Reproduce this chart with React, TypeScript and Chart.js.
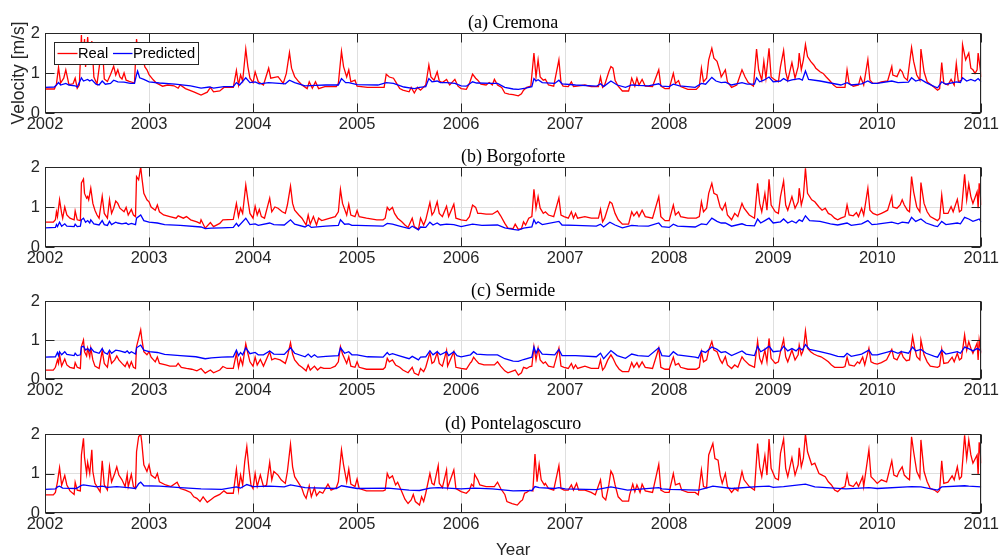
import React, { useEffect, useRef } from 'react';
import { Chart, registerables } from 'chart.js';

Chart.register(...registerables);

type Pt = [number, number];

const yearTicks = [2002, 2003, 2004, 2005, 2006, 2007, 2008, 2009, 2010, 2011];
const velocityTicks = [0, 1, 2];
const panelTitles = ['(a) Cremona', '(b) Borgoforte', '(c) Sermide', '(d) Pontelagoscuro'];
const seriesLabels = ['Real', 'Predicted'];

const cremonaReal: Pt[] = [
[2002.00,0.60],[2002.09,0.60],[2002.11,0.72],[2002.13,1.14],[2002.15,0.75],[2002.18,0.87],[2002.20,1.08],[2002.23,0.71],[2002.27,0.73],[2002.29,0.87],[2002.31,0.62],[2002.33,0.70],
[2002.35,1.95],[2002.36,1.2],[2002.38,1.85],[2002.39,1.15],[2002.41,1.9],[2002.43,1.2],[2002.45,1.8],[2002.47,0.9],[2002.50,0.72],[2002.55,1.72],[2002.57,0.85],[2002.60,0.79],[2002.63,0.96],[2002.66,1.17],[2002.68,0.95],[2002.70,1.08],[2002.72,0.9],[2002.74,0.85],[2002.76,1.0],[2002.78,0.82],[2002.81,0.79],[2002.86,0.75],
[2002.88,1.85],[2002.90,1.3],[2002.93,1.5],[2002.96,1.15],[2002.98,1.08],[2003.00,0.96],[2003.04,0.83],[2003.07,0.75],[2003.13,0.67],[2003.18,0.70],[2003.24,0.68],[2003.28,0.62],[2003.30,0.70],[2003.35,0.61],[2003.43,0.53],[2003.50,0.45],[2003.56,0.52],[2003.59,0.64],[2003.62,0.53],[2003.68,0.55],[2003.72,0.64],[2003.81,0.64],
[2003.84,1.06],[2003.86,0.70],[2003.88,0.95],[2003.90,0.8],[2003.93,1.60],[2003.95,1.16],[2003.97,0.87],[2004.00,0.76],[2004.02,1.03],[2004.05,0.78],[2004.10,0.70],[2004.15,1.12],[2004.17,0.87],[2004.24,0.91],[2004.29,0.74],[2004.32,0.99],[2004.35,1.51],[2004.37,1.12],[2004.40,0.91],[2004.44,0.78],[2004.47,0.70],[2004.52,0.61],[2004.54,0.78],[2004.57,0.62],[2004.60,0.78],[2004.63,0.61],[2004.69,0.66],[2004.80,0.66],[2004.82,0.74],[2004.85,1.54],[2004.87,1.16],[2004.90,0.90],[2004.92,1.08],[2004.94,0.78],[2004.98,0.82],[2005.00,0.67],
[2005.10,0.64],[2005.20,0.64],[2005.26,0.64],[2005.28,0.97],[2005.31,0.90],[2005.35,0.87],[2005.38,0.74],[2005.41,0.61],[2005.44,0.57],[2005.50,0.53],[2005.52,0.64],[2005.55,0.50],[2005.58,0.64],[2005.61,0.57],[2005.66,0.70],[2005.69,1.20],[2005.71,0.90],[2005.74,0.82],[2005.77,1.03],[2005.79,0.80],[2005.82,0.76],[2005.86,0.84],[2005.89,0.70],[2005.94,0.84],[2005.97,0.67],[2006.00,0.61],[2006.05,0.59],
[2006.08,0.74],[2006.11,0.97],[2006.14,0.87],[2006.16,0.82],[2006.19,0.72],[2006.24,0.70],[2006.27,0.76],[2006.30,0.70],[2006.32,0.84],[2006.35,0.70],[2006.39,0.64],[2006.42,0.50],[2006.46,0.47],[2006.50,0.46],[2006.55,0.43],[2006.58,0.48],[2006.60,0.57],[2006.63,0.64],[2006.67,0.67],
[2006.70,1.50],[2006.72,0.90],[2006.74,1.33],[2006.76,0.90],[2006.79,0.82],[2006.81,0.84],[2006.84,0.70],[2006.89,0.67],[2006.94,1.33],[2006.96,0.76],[2006.98,0.67],
[2007.03,0.66],[2007.06,0.78],[2007.08,0.66],[2007.19,0.70],[2007.25,0.66],[2007.32,0.66],[2007.34,0.90],[2007.36,0.64],[2007.38,0.70],[2007.42,1.03],[2007.44,1.16],[2007.46,1.12],[2007.48,0.82],[2007.51,0.67],[2007.55,0.55],[2007.61,0.55],[2007.62,0.64],[2007.64,0.87],[2007.67,0.67],[2007.69,0.87],[2007.71,0.70],[2007.74,0.84],[2007.77,0.67],[2007.84,0.66],[2007.90,1.08],[2007.92,0.67],[2007.96,0.61],[2008.00,0.61],
[2008.04,0.99],[2008.06,0.74],[2008.09,0.81],[2008.11,0.66],[2008.18,0.59],[2008.26,0.59],[2008.29,0.67],[2008.31,1.12],[2008.33,0.78],[2008.36,0.87],[2008.38,1.33],[2008.41,1.62],[2008.43,1.37],[2008.46,1.29],[2008.49,1.03],[2008.50,0.90],[2008.54,1.08],[2008.56,0.78],[2008.60,0.64],[2008.65,0.70],[2008.70,1.08],[2008.73,0.90],[2008.76,0.76],[2008.81,0.67],[2008.84,1.60],[2008.86,1.08],[2008.89,0.82],[2008.91,1.29],[2008.93,0.87],[2008.96,1.62],[2008.98,0.90],[2009.02,0.82],
[2009.05,0.78],[2009.07,1.16],[2009.10,1.56],[2009.12,1.03],[2009.14,0.82],[2009.18,1.26],[2009.21,0.87],[2009.24,1.16],[2009.25,1.50],[2009.27,1.08],[2009.29,1.33],[2009.31,1.71],[2009.33,1.41],[2009.36,1.29],[2009.39,1.20],[2009.41,1.12],[2009.45,1.03],[2009.48,0.99],[2009.51,0.90],[2009.54,0.82],[2009.58,0.70],[2009.61,0.64],[2009.69,0.64],[2009.71,1.08],[2009.73,0.74],[2009.77,0.67],[2009.82,0.70],[2009.84,0.90],[2009.87,0.70],[2009.91,1.34],[2009.93,0.82],[2009.96,0.74],[2010.00,0.74],
[2010.04,0.78],[2010.10,0.80],[2010.14,1.16],[2010.15,0.95],[2010.19,0.91],[2010.22,1.09],[2010.24,1.03],[2010.26,0.89],[2010.29,0.82],[2010.33,1.64],[2010.35,1.29],[2010.38,0.95],[2010.41,0.82],[2010.42,1.60],[2010.45,1.03],[2010.48,0.78],[2010.55,0.64],[2010.58,0.57],[2010.60,0.61],[2010.62,1.26],[2010.64,0.74],[2010.68,0.70],[2010.71,0.84],[2010.74,0.70],[2010.76,1.24],[2010.78,0.78],[2010.81,0.82],[2010.82,1.71],[2010.85,1.33],[2010.88,1.50],[2010.90,1.12],[2010.92,1.08],[2010.94,0.99],[2010.96,1.08],[2010.97,1.50],[2011.00,0.90]
];

const cremonaPred: Pt[] = [
[2002.00,0.64],[2002.09,0.65],[2002.11,0.70],[2002.13,0.76],[2002.15,0.70],[2002.20,0.74],[2002.23,0.70],[2002.29,0.68],[2002.31,0.65],[2002.34,0.82],[2002.35,0.88],[2002.37,0.80],[2002.41,0.84],[2002.43,0.80],[2002.45,0.83],[2002.49,0.72],[2002.52,0.70],[2002.55,0.80],[2002.58,0.72],[2002.63,0.74],[2002.66,0.82],[2002.70,0.78],[2002.76,0.77],[2002.82,0.74],[2002.86,0.74],[2002.88,0.96],[2002.89,1.05],[2002.91,0.88],[2002.95,0.84],[2003.00,0.78],[2003.10,0.75],[2003.25,0.72],[2003.40,0.68],[2003.50,0.62],[2003.58,0.65],[2003.62,0.62],[2003.72,0.66],[2003.81,0.66],[2003.84,0.76],[2003.87,0.70],[2003.93,0.88],[2003.97,0.76],[2004.02,0.78],[2004.06,0.73],[2004.15,0.76],[2004.25,0.74],[2004.31,0.73],[2004.35,0.82],[2004.40,0.76],[2004.50,0.68],[2004.60,0.69],[2004.70,0.70],[2004.82,0.70],[2004.85,0.86],[2004.89,0.76],[2004.92,0.76],[2005.00,0.71],[2005.20,0.70],[2005.28,0.76],[2005.35,0.74],[2005.45,0.65],[2005.55,0.61],[2005.60,0.64],[2005.66,0.66],[2005.69,0.86],[2005.72,0.78],[2005.77,0.80],[2005.80,0.76],[2005.86,0.76],[2005.94,0.74],[2006.00,0.68],[2006.05,0.67],[2006.11,0.78],[2006.15,0.75],[2006.30,0.74],[2006.35,0.74],[2006.42,0.64],[2006.50,0.60],[2006.55,0.59],[2006.62,0.62],[2006.68,0.66],[2006.70,0.86],[2006.72,0.80],[2006.74,0.83],[2006.78,0.76],[2006.90,0.74],[2006.94,0.82],[2006.97,0.73],[2007.10,0.70],[2007.30,0.67],[2007.34,0.73],[2007.37,0.66],[2007.44,0.80],[2007.50,0.70],[2007.58,0.64],[2007.64,0.70],[2007.70,0.69],[2007.80,0.68],[2007.90,0.73],[2007.93,0.67],[2008.00,0.66],[2008.04,0.72],[2008.10,0.68],[2008.25,0.64],[2008.31,0.74],[2008.35,0.72],[2008.41,0.89],[2008.45,0.80],[2008.50,0.76],[2008.54,0.77],[2008.60,0.70],[2008.70,0.76],[2008.75,0.72],[2008.82,0.72],[2008.84,0.88],[2008.87,0.78],[2008.91,0.82],[2008.96,0.90],[2009.00,0.78],[2009.07,0.80],[2009.10,0.86],[2009.14,0.80],[2009.18,0.83],[2009.25,0.86],[2009.28,0.82],[2009.31,1.05],[2009.34,0.84],[2009.45,0.80],[2009.55,0.75],[2009.65,0.70],[2009.71,0.76],[2009.75,0.70],[2009.85,0.73],[2009.91,0.80],[2009.95,0.74],[2010.00,0.74],[2010.14,0.80],[2010.20,0.76],[2010.30,0.77],[2010.33,0.88],[2010.37,0.80],[2010.42,0.84],[2010.47,0.76],[2010.55,0.66],[2010.58,0.63],[2010.62,0.78],[2010.66,0.72],[2010.76,0.78],[2010.80,0.76],[2010.82,0.88],[2010.86,0.80],[2010.90,0.84],[2010.94,0.80],[2010.97,0.86],[2011.00,0.78]
];

const borgoforteReal: Pt[] = [
[2002.00,0.62],[2002.08,0.62],[2002.10,0.68],[2002.11,0.88],[2002.12,0.76],[2002.14,1.18],[2002.16,0.84],[2002.17,0.72],[2002.19,1.0],[2002.21,0.80],[2002.24,0.72],[2002.28,0.68],[2002.29,0.90],[2002.31,0.68],[2002.34,0.66],
[2002.35,1.60],[2002.37,1.70],[2002.38,1.34],[2002.40,1.22],[2002.41,1.26],[2002.42,1.18],[2002.44,1.47],[2002.46,1.09],[2002.48,0.92],[2002.50,0.80],[2002.52,0.72],[2002.55,1.27],[2002.57,0.84],[2002.60,0.72],[2002.62,1.18],[2002.64,0.84],[2002.66,0.97],[2002.68,1.15],[2002.70,1.09],[2002.72,0.97],[2002.76,0.88],[2002.78,0.99],[2002.80,0.80],[2002.83,0.94],[2002.85,0.80],[2002.87,0.76],
[2002.88,1.76],[2002.90,1.68],[2002.92,2.00],[2002.93,1.76],[2002.95,1.34],[2002.98,1.18],[2003.00,1.13],[2003.02,1.00],[2003.06,0.92],[2003.08,1.05],[2003.10,0.88],[2003.14,0.80],[2003.20,0.76],[2003.26,0.72],[2003.28,0.78],[2003.33,0.72],[2003.36,0.76],[2003.40,0.68],[2003.46,0.63],[2003.49,0.59],[2003.50,0.68],[2003.54,0.47],[2003.59,0.61],[2003.62,0.51],[2003.68,0.59],[2003.71,0.68],[2003.81,0.69],
[2003.84,1.09],[2003.86,0.76],[2003.88,0.97],[2003.90,0.84],[2003.93,1.55],[2003.95,1.18],[2003.97,0.84],[2004.00,0.72],[2004.02,1.02],[2004.04,0.80],[2004.06,0.94],[2004.08,0.76],[2004.11,0.72],[2004.16,1.22],[2004.18,0.88],[2004.21,1.00],[2004.24,0.97],[2004.28,0.88],[2004.31,0.84],[2004.33,1.05],[2004.36,1.52],[2004.38,1.09],[2004.40,0.92],[2004.44,0.80],[2004.47,0.72],[2004.51,0.55],[2004.53,0.80],[2004.55,0.57],[2004.58,0.76],[2004.61,0.55],[2004.63,0.72],[2004.66,0.66],[2004.70,0.69],[2004.74,0.72],[2004.79,0.76],[2004.82,0.88],[2004.84,1.44],[2004.86,1.09],[2004.90,0.80],[2004.92,1.07],[2004.94,0.80],[2004.98,0.76],[2005.00,0.91],[2005.02,0.76],
[2005.09,0.72],[2005.19,0.68],[2005.25,0.68],[2005.27,0.72],[2005.29,0.99],[2005.31,0.92],[2005.34,0.99],[2005.36,0.84],[2005.39,0.72],[2005.43,0.63],[2005.46,0.55],[2005.49,0.49],[2005.53,0.72],[2005.55,0.51],[2005.59,0.44],[2005.61,0.72],[2005.64,0.55],[2005.66,0.68],[2005.70,1.11],[2005.72,0.80],[2005.74,0.88],[2005.77,1.13],[2005.79,0.84],[2005.82,0.76],[2005.86,1.02],[2005.88,0.76],[2005.93,1.07],[2005.95,0.72],[2006.00,0.68],[2006.05,0.66],
[2006.08,0.76],[2006.11,1.05],[2006.14,0.99],[2006.16,0.84],[2006.19,0.84],[2006.24,0.82],[2006.30,0.82],[2006.35,0.90],[2006.38,0.78],[2006.42,0.59],[2006.45,0.47],[2006.50,0.46],[2006.52,0.57],[2006.55,0.44],[2006.58,0.46],[2006.60,0.63],[2006.62,0.55],[2006.65,0.72],[2006.68,0.76],
[2006.70,1.44],[2006.72,0.97],[2006.74,1.26],[2006.76,0.97],[2006.79,0.84],[2006.81,0.88],[2006.84,0.80],[2006.89,0.76],[2006.94,1.23],[2006.96,0.80],[2006.99,0.76],
[2007.03,0.72],[2007.06,0.88],[2007.08,0.72],[2007.10,0.84],[2007.12,0.72],[2007.19,0.76],[2007.25,0.72],[2007.32,0.72],[2007.34,0.94],[2007.36,0.63],[2007.38,0.72],[2007.41,0.97],[2007.43,1.13],[2007.45,1.09],[2007.48,0.84],[2007.51,0.68],[2007.55,0.57],[2007.61,0.57],[2007.64,0.88],[2007.66,0.78],[2007.69,0.88],[2007.71,0.76],[2007.74,0.92],[2007.77,0.76],[2007.84,0.72],[2007.90,1.26],[2007.92,0.76],[2007.96,0.66],[2008.00,0.66],
[2008.04,1.05],[2008.06,0.80],[2008.09,0.88],[2008.11,0.76],[2008.18,0.72],[2008.26,0.72],[2008.29,0.76],[2008.31,1.13],[2008.33,0.88],[2008.36,0.97],[2008.38,1.34],[2008.41,1.59],[2008.43,1.34],[2008.46,1.30],[2008.49,1.00],[2008.51,0.92],[2008.54,1.09],[2008.56,0.80],[2008.60,0.68],[2008.63,0.84],[2008.66,0.76],[2008.70,1.09],[2008.72,0.97],[2008.77,0.80],[2008.82,0.72],[2008.85,1.59],[2008.87,1.09],[2008.89,0.88],[2008.92,1.34],[2008.94,0.92],[2008.96,1.69],[2008.98,1.05],[2009.02,0.88],
[2009.05,0.84],[2009.07,1.26],[2009.10,1.65],[2009.12,1.05],[2009.14,0.92],[2009.18,1.26],[2009.21,0.97],[2009.24,1.13],[2009.25,1.47],[2009.27,1.05],[2009.29,1.26],[2009.31,1.97],[2009.33,1.34],[2009.37,1.18],[2009.40,1.13],[2009.44,1.00],[2009.47,0.92],[2009.50,0.97],[2009.53,0.84],[2009.56,0.80],[2009.59,0.72],[2009.62,0.68],[2009.65,0.72],[2009.69,0.76],[2009.71,1.05],[2009.73,0.80],[2009.77,0.78],[2009.80,0.86],[2009.82,0.76],[2009.85,0.97],[2009.87,0.80],[2009.91,1.47],[2009.93,0.92],[2009.96,0.84],[2010.00,0.80],
[2010.04,0.84],[2010.07,0.88],[2010.10,0.92],[2010.14,1.26],[2010.15,1.00],[2010.19,0.97],[2010.22,1.05],[2010.24,1.18],[2010.26,1.05],[2010.29,0.92],[2010.31,0.88],[2010.33,1.76],[2010.35,1.38],[2010.38,1.00],[2010.41,0.88],[2010.42,1.61],[2010.45,1.09],[2010.48,0.88],[2010.51,0.76],[2010.58,0.66],[2010.60,0.72],[2010.62,1.30],[2010.64,0.84],[2010.68,0.84],[2010.71,1.01],[2010.73,0.88],[2010.77,1.19],[2010.79,0.88],[2010.81,0.92],[2010.84,1.82],[2010.86,1.18],[2010.88,1.57],[2010.90,1.26],[2010.92,1.09],[2010.96,1.38],[2010.97,0.97],[2010.98,1.59],[2011.00,1.05]
];

const borgofortePred: Pt[] = [
[2002.00,0.48],[2002.10,0.49],[2002.11,0.56],[2002.12,0.51],[2002.14,0.62],[2002.16,0.52],[2002.19,0.58],[2002.21,0.52],[2002.28,0.51],[2002.29,0.57],[2002.31,0.51],[2002.34,0.52],[2002.35,0.68],[2002.37,0.72],[2002.39,0.62],[2002.41,0.66],[2002.43,0.60],[2002.44,0.68],[2002.47,0.58],[2002.52,0.55],[2002.55,0.66],[2002.57,0.56],[2002.60,0.54],[2002.62,0.64],[2002.64,0.56],[2002.68,0.62],[2002.70,0.60],[2002.74,0.58],[2002.78,0.60],[2002.80,0.56],[2002.83,0.59],[2002.87,0.56],[2002.88,0.72],[2002.92,0.80],[2002.95,0.66],[2003.00,0.62],[2003.08,0.60],[2003.15,0.56],[2003.30,0.54],[2003.50,0.50],[2003.54,0.46],[2003.60,0.47],[2003.70,0.48],[2003.81,0.49],[2003.84,0.59],[2003.86,0.52],[2003.93,0.72],[2003.97,0.56],[2004.02,0.58],[2004.05,0.54],[2004.16,0.60],[2004.20,0.56],[2004.30,0.55],[2004.36,0.68],[2004.40,0.57],[2004.50,0.50],[2004.53,0.55],[2004.56,0.49],[2004.70,0.52],[2004.82,0.54],[2004.84,0.68],[2004.88,0.57],[2004.92,0.58],[2004.95,0.54],[2005.00,0.54],[2005.25,0.52],[2005.29,0.59],[2005.34,0.57],[2005.40,0.53],[2005.50,0.46],[2005.53,0.52],[2005.59,0.43],[2005.61,0.50],[2005.66,0.49],[2005.70,0.62],[2005.73,0.55],[2005.77,0.60],[2005.80,0.55],[2005.86,0.57],[2005.93,0.56],[2006.00,0.51],[2006.11,0.57],[2006.20,0.54],[2006.35,0.55],[2006.42,0.48],[2006.50,0.44],[2006.55,0.42],[2006.60,0.47],[2006.68,0.50],[2006.70,0.68],[2006.72,0.58],[2006.74,0.63],[2006.78,0.56],[2006.94,0.64],[2006.97,0.55],[2007.10,0.54],[2007.30,0.52],[2007.34,0.57],[2007.37,0.50],[2007.43,0.62],[2007.48,0.55],[2007.55,0.48],[2007.64,0.54],[2007.70,0.53],[2007.80,0.52],[2007.90,0.60],[2007.93,0.51],[2008.00,0.49],[2008.04,0.57],[2008.08,0.52],[2008.25,0.50],[2008.31,0.58],[2008.36,0.56],[2008.41,0.72],[2008.46,0.64],[2008.50,0.60],[2008.54,0.60],[2008.60,0.52],[2008.70,0.58],[2008.74,0.54],[2008.82,0.53],[2008.85,0.70],[2008.88,0.60],[2008.92,0.66],[2008.96,0.72],[2009.00,0.60],[2009.07,0.63],[2009.10,0.70],[2009.14,0.60],[2009.18,0.65],[2009.22,0.60],[2009.25,0.68],[2009.28,0.64],[2009.31,0.78],[2009.35,0.66],[2009.45,0.64],[2009.55,0.58],[2009.62,0.55],[2009.71,0.60],[2009.75,0.54],[2009.85,0.58],[2009.91,0.66],[2009.95,0.56],[2010.00,0.57],[2010.14,0.62],[2010.20,0.58],[2010.24,0.62],[2010.30,0.60],[2010.33,0.74],[2010.37,0.64],[2010.42,0.70],[2010.47,0.60],[2010.55,0.53],[2010.58,0.51],[2010.62,0.64],[2010.66,0.56],[2010.77,0.60],[2010.80,0.58],[2010.84,0.74],[2010.88,0.70],[2010.92,0.64],[2010.96,0.68],[2010.98,0.70],[2011.00,0.62]
];

const sermideReal: Pt[] = [
[2002.00,0.23],[2002.08,0.23],[2002.10,0.30],[2002.12,0.49],[2002.13,0.40],[2002.14,0.62],[2002.16,0.33],[2002.19,0.51],[2002.21,0.36],[2002.24,0.30],[2002.28,0.27],[2002.29,0.42],[2002.31,0.30],[2002.34,0.27],
[2002.35,0.83],[2002.37,1.00],[2002.38,0.70],[2002.40,0.59],[2002.41,0.79],[2002.43,0.57],[2002.44,0.79],[2002.46,0.49],[2002.48,0.33],[2002.52,0.27],[2002.55,0.73],[2002.57,0.40],[2002.60,0.30],[2002.62,0.66],[2002.64,0.40],[2002.67,0.49],[2002.69,0.59],[2002.71,0.49],[2002.74,0.40],[2002.77,0.32],[2002.79,0.44],[2002.81,0.30],[2002.83,0.44],[2002.85,0.30],[2002.87,0.27],
[2002.88,0.83],[2002.90,1.04],[2002.92,1.26],[2002.93,1.04],[2002.95,0.70],[2002.98,0.62],[2003.00,0.70],[2003.02,0.56],[2003.06,0.44],[2003.08,0.56],[2003.10,0.40],[2003.16,0.36],[2003.20,0.33],[2003.26,0.33],[2003.28,0.40],[2003.31,0.30],[2003.36,0.27],[2003.41,0.25],[2003.46,0.21],[2003.50,0.27],[2003.54,0.15],[2003.59,0.23],[2003.62,0.16],[2003.68,0.23],[2003.71,0.32],[2003.75,0.27],[2003.81,0.27],
[2003.84,0.66],[2003.86,0.30],[2003.88,0.53],[2003.90,0.36],[2003.93,0.90],[2003.95,0.66],[2003.97,0.44],[2004.00,0.33],[2004.02,0.56],[2004.04,0.36],[2004.07,0.50],[2004.10,0.33],[2004.16,0.70],[2004.18,0.49],[2004.21,0.53],[2004.26,0.49],[2004.31,0.40],[2004.33,0.57],[2004.36,0.93],[2004.38,0.64],[2004.40,0.49],[2004.44,0.36],[2004.47,0.30],[2004.51,0.21],[2004.53,0.36],[2004.55,0.23],[2004.59,0.33],[2004.62,0.23],[2004.65,0.30],[2004.68,0.27],[2004.74,0.27],[2004.79,0.33],[2004.82,0.44],[2004.84,0.83],[2004.86,0.64],[2004.90,0.40],[2004.92,0.57],[2004.94,0.33],[2004.98,0.30],[2005.00,0.44],[2005.02,0.30],
[2005.09,0.25],[2005.25,0.25],[2005.27,0.30],[2005.29,0.53],[2005.31,0.44],[2005.34,0.49],[2005.37,0.36],[2005.41,0.30],[2005.44,0.23],[2005.49,0.16],[2005.53,0.30],[2005.55,0.15],[2005.59,0.10],[2005.61,0.27],[2005.64,0.19],[2005.66,0.30],[2005.70,0.68],[2005.72,0.40],[2005.74,0.44],[2005.77,0.68],[2005.79,0.40],[2005.82,0.33],[2005.86,0.73],[2005.87,0.33],[2005.93,0.70],[2005.95,0.30],[2006.00,0.27],[2006.05,0.25],
[2006.09,0.42],[2006.10,0.44],[2006.12,0.56],[2006.14,0.49],[2006.17,0.40],[2006.22,0.36],[2006.32,0.36],[2006.35,0.44],[2006.38,0.33],[2006.42,0.21],[2006.45,0.16],[2006.52,0.23],[2006.55,0.10],[2006.58,0.16],[2006.60,0.30],[2006.63,0.27],[2006.66,0.32],[2006.68,0.33],
[2006.70,0.83],[2006.72,0.49],[2006.74,0.79],[2006.76,0.49],[2006.79,0.40],[2006.81,0.44],[2006.84,0.33],[2006.89,0.30],[2006.94,0.79],[2006.96,0.33],[2006.99,0.30],
[2007.03,0.27],[2007.06,0.40],[2007.08,0.27],[2007.10,0.36],[2007.12,0.27],[2007.19,0.33],[2007.25,0.27],[2007.32,0.27],[2007.34,0.49],[2007.36,0.23],[2007.38,0.30],[2007.41,0.49],[2007.44,0.62],[2007.46,0.53],[2007.49,0.36],[2007.52,0.25],[2007.55,0.19],[2007.61,0.19],[2007.64,0.42],[2007.66,0.30],[2007.69,0.42],[2007.71,0.30],[2007.74,0.44],[2007.77,0.30],[2007.84,0.27],[2007.90,0.79],[2007.92,0.30],[2007.96,0.25],[2008.00,0.25],
[2008.04,0.56],[2008.06,0.36],[2008.09,0.40],[2008.11,0.30],[2008.18,0.25],[2008.26,0.25],[2008.29,0.30],[2008.31,0.70],[2008.33,0.44],[2008.36,0.49],[2008.38,0.74],[2008.41,0.96],[2008.43,0.74],[2008.46,0.70],[2008.49,0.49],[2008.51,0.40],[2008.54,0.57],[2008.56,0.36],[2008.60,0.27],[2008.63,0.36],[2008.66,0.30],[2008.70,0.57],[2008.72,0.49],[2008.77,0.36],[2008.82,0.30],[2008.85,0.97],[2008.87,0.53],[2008.89,0.40],[2008.92,0.74],[2008.94,0.44],[2008.96,1.04],[2008.98,0.53],[2009.02,0.40],
[2009.05,0.44],[2009.07,0.70],[2009.10,1.02],[2009.12,0.57],[2009.14,0.44],[2009.18,0.74],[2009.21,0.49],[2009.24,0.62],[2009.25,0.87],[2009.27,0.62],[2009.29,0.74],[2009.31,1.23],[2009.33,0.79],[2009.36,0.70],[2009.39,0.64],[2009.43,0.59],[2009.46,0.57],[2009.50,0.50],[2009.53,0.44],[2009.56,0.36],[2009.59,0.30],[2009.67,0.30],[2009.69,0.32],[2009.71,0.56],[2009.73,0.36],[2009.78,0.33],[2009.81,0.44],[2009.83,0.40],[2009.86,0.56],[2009.88,0.36],[2009.92,0.79],[2009.94,0.44],[2009.97,0.40],[2010.00,0.38],
[2010.04,0.42],[2010.09,0.49],[2010.14,0.76],[2010.16,0.53],[2010.19,0.49],[2010.23,0.70],[2010.25,0.56],[2010.28,0.47],[2010.31,0.49],[2010.34,1.09],[2010.36,0.79],[2010.38,0.57],[2010.41,0.49],[2010.42,1.00],[2010.45,0.62],[2010.48,0.44],[2010.51,0.33],[2010.58,0.30],[2010.60,0.33],[2010.62,0.76],[2010.64,0.40],[2010.68,0.42],[2010.72,0.56],[2010.74,0.44],[2010.77,0.66],[2010.79,0.49],[2010.81,0.53],[2010.84,1.13],[2010.86,0.74],[2010.88,0.96],[2010.90,0.79],[2010.92,0.66],[2010.96,0.92],[2010.97,0.49],[2010.98,1.00],[2011.00,0.66]
];

const sermidePred: Pt[] = [
[2002.00,0.56],[2002.10,0.57],[2002.12,0.68],[2002.13,0.60],[2002.14,0.70],[2002.16,0.62],[2002.19,0.70],[2002.21,0.63],[2002.28,0.60],[2002.29,0.66],[2002.31,0.60],[2002.34,0.62],[2002.35,0.82],[2002.37,0.84],[2002.39,0.74],[2002.41,0.78],[2002.43,0.72],[2002.44,0.80],[2002.47,0.70],[2002.52,0.66],[2002.55,0.78],[2002.57,0.68],[2002.60,0.64],[2002.62,0.74],[2002.64,0.66],[2002.68,0.74],[2002.72,0.72],[2002.77,0.68],[2002.79,0.72],[2002.81,0.66],[2002.83,0.70],[2002.87,0.64],[2002.88,0.80],[2002.92,0.87],[2002.95,0.74],[2003.00,0.70],[2003.08,0.68],[2003.15,0.63],[2003.30,0.60],[2003.45,0.57],[2003.54,0.52],[2003.60,0.54],[2003.70,0.56],[2003.81,0.57],[2003.84,0.74],[2003.86,0.60],[2003.88,0.68],[2003.90,0.62],[2003.93,0.80],[2003.97,0.65],[2004.02,0.68],[2004.05,0.62],[2004.10,0.62],[2004.16,0.72],[2004.20,0.64],[2004.30,0.63],[2004.36,0.80],[2004.40,0.66],[2004.50,0.57],[2004.53,0.64],[2004.56,0.56],[2004.59,0.62],[2004.62,0.56],[2004.70,0.58],[2004.82,0.60],[2004.84,0.80],[2004.88,0.66],[2004.92,0.70],[2004.95,0.62],[2005.00,0.62],[2005.10,0.57],[2005.25,0.56],[2005.29,0.68],[2005.31,0.62],[2005.34,0.65],[2005.40,0.60],[2005.50,0.52],[2005.53,0.58],[2005.59,0.49],[2005.61,0.56],[2005.66,0.57],[2005.70,0.72],[2005.73,0.62],[2005.77,0.70],[2005.80,0.62],[2005.86,0.70],[2005.88,0.60],[2005.93,0.70],[2005.96,0.60],[2006.00,0.57],[2006.09,0.62],[2006.12,0.70],[2006.15,0.64],[2006.25,0.62],[2006.35,0.62],[2006.42,0.52],[2006.50,0.46],[2006.55,0.45],[2006.60,0.50],[2006.68,0.56],[2006.70,0.82],[2006.72,0.66],[2006.74,0.78],[2006.78,0.64],[2006.90,0.62],[2006.94,0.76],[2006.97,0.60],[2007.10,0.60],[2007.30,0.57],[2007.34,0.66],[2007.37,0.52],[2007.44,0.73],[2007.50,0.60],[2007.58,0.53],[2007.64,0.64],[2007.70,0.60],[2007.80,0.58],[2007.90,0.80],[2007.93,0.60],[2008.00,0.58],[2008.04,0.70],[2008.08,0.62],[2008.25,0.56],[2008.28,0.54],[2008.31,0.72],[2008.35,0.68],[2008.41,0.82],[2008.46,0.76],[2008.50,0.68],[2008.54,0.70],[2008.60,0.60],[2008.70,0.72],[2008.74,0.64],[2008.82,0.60],[2008.85,0.84],[2008.88,0.70],[2008.92,0.76],[2008.96,0.84],[2009.00,0.70],[2009.07,0.72],[2009.10,0.84],[2009.14,0.72],[2009.18,0.78],[2009.22,0.72],[2009.25,0.80],[2009.28,0.74],[2009.31,0.88],[2009.35,0.76],[2009.45,0.70],[2009.55,0.64],[2009.62,0.58],[2009.68,0.57],[2009.71,0.66],[2009.75,0.58],[2009.85,0.64],[2009.92,0.74],[2009.95,0.62],[2010.00,0.62],[2010.14,0.72],[2010.20,0.66],[2010.23,0.70],[2010.30,0.66],[2010.34,0.82],[2010.37,0.72],[2010.42,0.76],[2010.47,0.66],[2010.55,0.58],[2010.58,0.56],[2010.62,0.74],[2010.66,0.64],[2010.77,0.70],[2010.80,0.66],[2010.84,0.82],[2010.88,0.78],[2010.92,0.72],[2010.96,0.78],[2010.98,0.76],[2011.00,0.70]
];

const ponteReal: Pt[] = [
[2002.00,0.46],[2002.08,0.46],[2002.10,0.52],[2002.12,0.79],[2002.14,1.15],[2002.16,0.71],[2002.19,0.95],[2002.21,0.71],[2002.24,0.56],[2002.28,0.47],[2002.29,0.78],[2002.31,0.58],[2002.34,0.56],
[2002.35,1.47],[2002.37,1.89],[2002.38,1.40],[2002.40,1.00],[2002.41,1.28],[2002.43,1.00],[2002.45,1.60],[2002.46,1.05],[2002.48,0.75],[2002.52,0.58],[2002.53,0.54],[2002.55,1.32],[2002.57,0.71],[2002.60,0.58],[2002.62,1.17],[2002.64,0.79],[2002.67,1.00],[2002.69,1.17],[2002.71,0.96],[2002.74,0.84],[2002.77,0.67],[2002.79,0.98],[2002.80,0.67],[2002.83,0.98],[2002.85,0.67],[2002.87,0.62],
[2002.88,1.55],[2002.90,1.93],[2002.92,2.00],[2002.93,1.80],[2002.95,1.22],[2002.98,1.05],[2003.00,1.22],[2003.02,0.96],[2003.06,0.88],[2003.08,1.00],[2003.10,0.79],[2003.16,0.71],[2003.21,0.67],[2003.27,0.78],[2003.30,0.62],[2003.35,0.58],[2003.40,0.52],[2003.43,0.41],[2003.46,0.37],[2003.49,0.29],[2003.52,0.41],[2003.56,0.27],[2003.60,0.35],[2003.63,0.41],[2003.68,0.47],[2003.72,0.56],[2003.75,0.50],[2003.81,0.50],
[2003.84,1.11],[2003.86,0.58],[2003.88,0.96],[2003.90,0.71],[2003.92,1.30],[2003.94,1.68],[2003.96,1.13],[2003.98,0.71],[2004.00,0.62],[2004.02,1.00],[2004.04,0.67],[2004.07,0.96],[2004.10,0.67],[2004.13,0.71],[2004.16,1.28],[2004.18,0.84],[2004.20,1.05],[2004.24,0.96],[2004.27,0.84],[2004.31,0.75],[2004.33,1.05],[2004.36,1.74],[2004.38,1.17],[2004.40,0.92],[2004.44,0.75],[2004.47,0.62],[2004.49,0.46],[2004.51,0.37],[2004.54,0.69],[2004.56,0.41],[2004.59,0.64],[2004.61,0.44],[2004.64,0.54],[2004.67,0.50],[2004.72,0.73],[2004.75,0.58],[2004.80,0.64],[2004.82,0.79],[2004.85,1.60],[2004.87,1.22],[2004.90,0.79],[2004.92,1.11],[2004.94,0.73],[2004.98,0.67],[2005.00,0.86],[2005.02,0.62],
[2005.09,0.56],[2005.25,0.56],[2005.27,0.58],[2005.29,1.00],[2005.31,0.88],[2005.34,0.94],[2005.37,0.71],[2005.39,0.78],[2005.43,0.54],[2005.46,0.35],[2005.49,0.24],[2005.52,0.33],[2005.54,0.47],[2005.56,0.29],[2005.60,0.20],[2005.62,0.41],[2005.64,0.29],[2005.66,0.50],[2005.70,1.00],[2005.72,0.75],[2005.74,0.71],[2005.78,1.20],[2005.79,0.75],[2005.82,0.64],[2005.86,1.09],[2005.87,0.64],[2005.93,1.09],[2005.95,0.62],[2006.00,0.54],[2006.05,0.50],
[2006.08,0.58],[2006.10,0.73],[2006.12,0.67],[2006.13,0.98],[2006.16,0.84],[2006.18,0.71],[2006.24,0.67],[2006.32,0.67],[2006.35,0.78],[2006.38,0.62],[2006.42,0.47],[2006.44,0.29],[2006.49,0.24],[2006.54,0.20],[2006.57,0.29],[2006.59,0.33],[2006.61,0.50],[2006.63,0.52],[2006.66,0.58],[2006.69,0.56],
[2006.71,1.49],[2006.73,0.79],[2006.75,1.23],[2006.77,0.84],[2006.80,0.71],[2006.81,0.75],[2006.84,0.62],[2006.89,0.58],[2006.94,1.20],[2006.96,0.62],[2006.99,0.58],
[2007.03,0.58],[2007.06,0.71],[2007.08,0.58],[2007.11,0.75],[2007.13,0.58],[2007.19,0.58],[2007.25,0.52],[2007.29,0.46],[2007.34,0.84],[2007.36,0.41],[2007.39,0.33],[2007.42,0.71],[2007.44,1.06],[2007.46,0.96],[2007.48,0.71],[2007.51,0.41],[2007.55,0.30],[2007.61,0.30],[2007.62,0.46],[2007.65,0.73],[2007.67,0.54],[2007.69,0.71],[2007.72,0.52],[2007.74,0.73],[2007.77,0.56],[2007.84,0.52],[2007.90,1.23],[2007.92,0.58],[2007.96,0.52],[2008.00,0.52],
[2008.04,1.00],[2008.06,0.71],[2008.10,0.75],[2008.12,0.58],[2008.18,0.52],[2008.25,0.52],[2008.28,0.46],[2008.31,1.09],[2008.33,0.67],[2008.36,0.64],[2008.38,1.47],[2008.42,1.76],[2008.44,1.38],[2008.47,1.34],[2008.49,0.96],[2008.51,0.75],[2008.54,1.00],[2008.56,0.67],[2008.60,0.52],[2008.63,0.62],[2008.66,0.56],[2008.70,1.05],[2008.72,0.84],[2008.77,0.67],[2008.82,0.58],[2008.85,1.76],[2008.87,1.17],[2008.89,0.92],[2008.92,1.45],[2008.94,0.96],[2008.96,1.87],[2008.98,1.13],[2009.02,0.88],
[2009.05,0.84],[2009.07,1.51],[2009.10,1.87],[2009.12,1.13],[2009.14,0.92],[2009.18,1.40],[2009.21,0.96],[2009.24,1.22],[2009.25,1.65],[2009.27,1.17],[2009.29,1.38],[2009.31,2.00],[2009.33,1.55],[2009.37,1.22],[2009.40,1.26],[2009.44,1.00],[2009.47,0.96],[2009.50,0.92],[2009.53,0.79],[2009.56,0.71],[2009.59,0.58],[2009.62,0.54],[2009.65,0.62],[2009.69,0.67],[2009.71,0.98],[2009.73,0.71],[2009.77,0.67],[2009.80,0.78],[2009.82,0.67],[2009.86,0.92],[2009.87,0.67],[2009.92,1.60],[2009.94,0.92],[2009.97,0.84],[2010.00,0.75],
[2010.04,0.84],[2010.09,0.79],[2010.14,1.32],[2010.16,0.96],[2010.19,0.92],[2010.21,1.05],[2010.24,1.17],[2010.26,0.96],[2010.29,0.88],[2010.31,0.84],[2010.33,1.93],[2010.35,1.55],[2010.38,1.05],[2010.41,0.88],[2010.42,1.85],[2010.45,1.05],[2010.48,0.79],[2010.51,0.62],[2010.55,0.58],[2010.58,0.52],[2010.60,0.58],[2010.62,1.32],[2010.64,0.75],[2010.68,0.78],[2010.72,0.94],[2010.74,0.84],[2010.77,1.17],[2010.79,0.86],[2010.81,0.92],[2010.84,1.97],[2010.86,1.38],[2010.88,1.85],[2010.90,1.47],[2010.92,1.26],[2010.96,1.47],[2010.97,0.96],[2010.98,1.79],[2011.00,1.26]
];

const pontePred: Pt[] = [
[2002.00,0.60],[2002.10,0.61],[2002.12,0.66],[2002.14,0.68],[2002.17,0.63],[2002.30,0.62],[2002.35,0.70],[2002.37,0.71],[2002.45,0.68],[2002.50,0.66],[2002.55,0.68],[2002.60,0.65],[2002.69,0.67],[2002.80,0.64],[2002.87,0.62],[2002.90,0.74],[2002.92,0.78],[2002.95,0.69],[2003.10,0.68],[2003.30,0.64],[2003.50,0.61],[2003.70,0.60],[2003.84,0.66],[2003.88,0.63],[2003.94,0.72],[2004.00,0.67],[2004.16,0.68],[2004.30,0.66],[2004.36,0.71],[2004.50,0.64],[2004.80,0.62],[2004.85,0.69],[2005.00,0.62],[2005.30,0.63],[2005.50,0.58],[2005.60,0.57],[2005.70,0.63],[2005.78,0.64],[2006.00,0.61],[2006.13,0.63],[2006.30,0.61],[2006.50,0.56],[2006.68,0.57],[2006.71,0.67],[2006.75,0.64],[2006.90,0.62],[2006.94,0.64],[2007.00,0.61],[2007.30,0.59],[2007.44,0.66],[2007.60,0.58],[2007.90,0.64],[2007.93,0.61],[2008.00,0.60],[2008.28,0.58],[2008.38,0.65],[2008.42,0.68],[2008.60,0.62],[2008.85,0.67],[2008.96,0.68],[2009.00,0.65],[2009.10,0.67],[2009.31,0.73],[2009.40,0.66],[2009.70,0.61],[2009.92,0.64],[2010.00,0.62],[2010.33,0.67],[2010.42,0.66],[2010.58,0.58],[2010.62,0.66],[2010.84,0.69],[2010.88,0.68],[2011.00,0.66]
];

const realSeries = [cremonaReal, borgoforteReal, sermideReal, ponteReal];
const predSeries = [cremonaPred, borgofortePred, sermidePred, pontePred];

// layout (pixels) for each panel canvas
const panelLayout = [
  { top: 0, height: 134, axisH: 21 },
  { top: 134, height: 134, axisH: 21 },
  { top: 268, height: 133, axisH: 22 },
  { top: 401, height: 159, axisH: 47 },
];

const TICK_FONT = { family: '"Liberation Sans", Arial, sans-serif', size: 16.5 };
const AXIS_COLOR = '#262626';
const GRID_COLOR = '#dfdfdf';

const boxPlugin = {
  id: 'matlabBox',
  afterDraw(chart: any) {
    const { ctx, chartArea } = chart;
    const x = chart.scales.x;
    const y = chart.scales.y;
    const L = Math.round(chartArea.left) + 0.5;
    const R = Math.round(chartArea.right) - 0.5;
    const T = Math.round(chartArea.top) + 0.5;
    const B = Math.round(chartArea.bottom) - 0.5;
    const tl = 9;
    ctx.save();
    ctx.strokeStyle = AXIS_COLOR;
    ctx.lineWidth = 1;
    ctx.beginPath();
    yearTicks.forEach((v) => {
      const px = Math.round(x.getPixelForValue(v)) + 0.5;
      ctx.moveTo(px, B);
      ctx.lineTo(px, B - tl);
      ctx.moveTo(px, T);
      ctx.lineTo(px, T + tl);
    });
    velocityTicks.forEach((v) => {
      const py = Math.round(y.getPixelForValue(v)) + 0.5;
      ctx.moveTo(L, py);
      ctx.lineTo(L + tl, py);
      ctx.moveTo(R, py);
      ctx.lineTo(R - tl, py);
    });
    ctx.stroke();
    ctx.strokeRect(L, T, R - L, B - T);
    ctx.restore();
  },
};

const legendPlugin = {
  id: 'insideLegend',
  afterDraw(chart: any) {
    const { ctx, chartArea } = chart;
    const bx = Math.round(chartArea.left) + 9.5;
    const by = Math.round(chartArea.top) + 9.5;
    const bw = 144;
    const bh = 22;
    const cy = by + bh / 2;
    ctx.save();
    ctx.fillStyle = '#ffffff';
    ctx.fillRect(bx, by, bw, bh);
    ctx.strokeStyle = AXIS_COLOR;
    ctx.lineWidth = 1;
    ctx.strokeRect(bx, by, bw, bh);
    ctx.font = '14.7px "Liberation Sans", Arial, sans-serif';
    ctx.textBaseline = 'middle';
    ctx.fillStyle = '#000000';
    ctx.lineWidth = 1.3;
    ctx.strokeStyle = '#ff0000';
    ctx.beginPath();
    ctx.moveTo(bx + 3, cy);
    ctx.lineTo(bx + 23, cy);
    ctx.stroke();
    ctx.fillText(seriesLabels[0], bx + 23.5, cy + 0.5);
    ctx.strokeStyle = '#0000ff';
    ctx.beginPath();
    ctx.moveTo(bx + 58.5, cy);
    ctx.lineTo(bx + 78, cy);
    ctx.stroke();
    ctx.fillText(seriesLabels[1], bx + 78.5, cy + 0.5);
    ctx.restore();
  },
};

function Panel({ index }: { index: number }) {
  const ref = useRef<HTMLCanvasElement | null>(null);
  const lay = panelLayout[index];
  useEffect(() => {
    if (!ref.current) return;
    const isFirst = index === 0;
    const isLast = index === panelTitles.length - 1;
    const chart = new Chart(ref.current, {
      type: 'line',
      data: {
        datasets: [
          {
            label: seriesLabels[1],
            data: predSeries[index].map(([x, y]) => ({ x, y })),
            borderColor: '#0000ff',
            borderWidth: 1.3,
            pointRadius: 0,
            tension: 0,
            order: 0,
          },
          {
            label: seriesLabels[0],
            data: realSeries[index].map(([x, y]) => ({ x, y })),
            borderColor: '#ff0000',
            borderWidth: 1.3,
            pointRadius: 0,
            tension: 0,
            order: 1,
          },
        ],
      },
      options: {
        responsive: false,
        animation: false,
        events: [],
        layout: { padding: { left: 0, right: 18, top: 0, bottom: 0 } },
        plugins: {
          legend: { display: false },
          tooltip: { enabled: false },
          title: {
            display: true,
            text: panelTitles[index],
            fullSize: false,
            color: '#000000',
            font: { family: '"Liberation Serif", "Times New Roman", serif', size: 18, weight: 'normal', lineHeight: 1 },
            padding: { top: 14, bottom: 1 },
          },
        },
        scales: {
          x: {
            type: 'linear',
            min: yearTicks[0],
            max: yearTicks[yearTicks.length - 1],
            afterBuildTicks: (s: any) => {
              s.ticks = yearTicks.map((v) => ({ value: v }));
            },
            afterFit: (s: any) => {
              s.height = lay.axisH;
            },
            ticks: {
              autoSkip: false,
              maxRotation: 0,
              padding: 2,
              color: AXIS_COLOR,
              font: TICK_FONT,
              callback: (v: any) => String(v),
            },
            grid: { color: GRID_COLOR, drawTicks: false, lineWidth: 1 },
            border: { display: false },
            title: {
              display: isLast,
              text: 'Year',
              color: AXIS_COLOR,
              font: { family: '"Liberation Sans", Arial, sans-serif', size: 17, lineHeight: 1 },
              padding: { top: 0, bottom: 1 },
            },
          },
          y: {
            type: 'linear',
            min: velocityTicks[0],
            max: velocityTicks[velocityTicks.length - 1],
            afterBuildTicks: (s: any) => {
              s.ticks = velocityTicks.map((v) => ({ value: v }));
            },
            afterFit: (s: any) => {
              s.width = 45;
            },
            ticks: {
              padding: 5,
              color: AXIS_COLOR,
              font: TICK_FONT,
              callback: (v: any) => String(v),
            },
            grid: { color: GRID_COLOR, drawTicks: false, lineWidth: 1 },
            border: { display: false },
            title: {
              display: isFirst,
              text: 'Velocity [m/s]',
              color: AXIS_COLOR,
              font: { family: '"Liberation Sans", Arial, sans-serif', size: 17.5, lineHeight: 1 },
              padding: { top: 10, bottom: 0 },
            },
          },
        },
      } as any,
      plugins: isFirst ? [boxPlugin, legendPlugin] : [boxPlugin],
    });
    return () => chart.destroy();
  }, [index]);
  return (
    <canvas
      ref={ref}
      width={1001}
      height={lay.height}
      style={{ position: 'absolute', left: 0, top: lay.top, width: 1001, height: lay.height }}
    />
  );
}

export default function App() {
  return (
    <div style={{ position: 'absolute', left: 0, top: 0, width: 1001, height: 560, background: '#ffffff', overflow: 'hidden' }}>
      {panelTitles.map((_, i) => (
        <Panel key={i} index={i} />
      ))}
    </div>
  );
}
